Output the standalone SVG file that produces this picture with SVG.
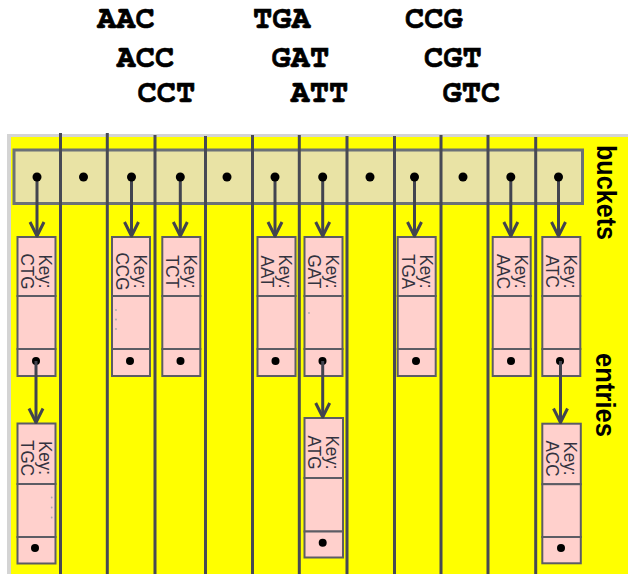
<svg xmlns="http://www.w3.org/2000/svg" width="628" height="574" viewBox="0 0 628 574">
<defs>
<style>
.seq{font-family:"FreeMono","Liberation Mono",monospace;font-weight:bold;font-size:32px;fill:#000;stroke:#000;stroke-width:0.7}
.lbl{font-family:"Liberation Sans",Arial,sans-serif;font-weight:bold;font-size:27px;fill:#000}
.key{font-family:"Liberation Sans",Arial,sans-serif;font-size:19px;fill:#33333f}
.vl{stroke:#474954;stroke-width:3}
.ent{fill:#ffd0cc;stroke:#5c5c64;stroke-width:2}
.conn{stroke:#42444f;stroke-width:3;fill:none}
.dot{fill:#000}
.fd{fill:#aaa}
</style>
<marker id="ah" markerUnits="userSpaceOnUse" markerWidth="20" markerHeight="20" viewBox="-2 -10 20 20" refX="14" refY="0" orient="auto" overflow="visible">
<path d="M0,-7 L14,0 L0,7" fill="none" stroke="#42444f" stroke-width="3" stroke-linejoin="round"/>
</marker>
</defs>

<g id="sequences">
<text class="seq" x="97" y="28.3">AAC</text>
<text class="seq" x="253" y="28.3">TGA</text>
<text class="seq" x="405" y="28.3">CCG</text>
<text class="seq" x="116.5" y="66.7">ACC</text>
<text class="seq" x="271.5" y="66.7">GAT</text>
<text class="seq" x="424" y="66.7">CGT</text>
<text class="seq" x="137.5" y="102.3">CCT</text>
<text class="seq" x="290.5" y="102.3">ATT</text>
<text class="seq" x="442.5" y="102.3">GTC</text>
</g>

<g id="panel">
<rect x="7" y="134" width="621" height="440" fill="#d4d4d4"/>
<rect x="11" y="137" width="617" height="437" fill="#ffff00"/>
</g>

<g id="buckets">
<rect x="14" y="150" width="568.5" height="53.5" fill="#e9e3a5" stroke="#6b7178" stroke-width="3"/>
</g>

<g id="dividers">
<line class="vl" x1="60.5" y1="133" x2="60.5" y2="574"/>
<line class="vl" x1="107.3" y1="133" x2="107.3" y2="574"/>
<line class="vl" x1="155" y1="135" x2="155" y2="574"/>
<line class="vl" x1="205.5" y1="136" x2="205.5" y2="574"/>
<line class="vl" x1="252.5" y1="135" x2="252.5" y2="574"/>
<line class="vl" x1="299.3" y1="135" x2="299.3" y2="574"/>
<line class="vl" x1="347" y1="136" x2="347" y2="574"/>
<line class="vl" x1="394.5" y1="136" x2="394.5" y2="574"/>
<line class="vl" x1="441" y1="135" x2="441" y2="574"/>
<line class="vl" x1="488" y1="135" x2="488" y2="574"/>
<line class="vl" x1="535.7" y1="137" x2="535.7" y2="574"/>
</g>

<g id="entry-CTG">
<rect class="ent" x="17.5" y="237" width="38" height="59"/>
<rect class="ent" x="17.5" y="296" width="38" height="53"/>
<rect class="ent" x="17.5" y="349" width="38" height="27"/>
<g transform="translate(17.5,271.5) rotate(90) scale(0.9,1)"><text class="key" text-anchor="middle" y="-22">Key:</text><text class="key" text-anchor="middle" y="-4">CTG</text></g>
<circle class="dot" cx="36" cy="361" r="4"/>
</g>
<g id="entry-TGC">
<rect class="ent" x="17.5" y="423.5" width="38" height="60.5"/>
<rect class="ent" x="17.5" y="484" width="38" height="53"/>
<rect class="ent" x="17.5" y="537" width="38" height="26.5"/>
<g transform="translate(17.5,458) rotate(90) scale(0.9,1)"><text class="key" text-anchor="middle" y="-22">Key:</text><text class="key" text-anchor="middle" y="-4">TGC</text></g>
<circle class="fd" cx="51.7" cy="497.5" r="0.9"/><circle class="fd" cx="51.7" cy="507.5" r="0.9"/><circle class="fd" cx="51.7" cy="517.5" r="0.9"/>
<circle class="dot" cx="35" cy="548" r="4"/>
</g>
<g id="entry-CCG">
<rect class="ent" x="112" y="237" width="38" height="59"/>
<rect class="ent" x="112" y="296" width="38" height="53"/>
<rect class="ent" x="112" y="349" width="38" height="27"/>
<g transform="translate(112,271.5) rotate(90) scale(0.9,1)"><text class="key" text-anchor="middle" y="-22">Key:</text><text class="key" text-anchor="middle" y="-4">CCG</text></g>
<circle class="fd" cx="116" cy="310" r="0.9"/><circle class="fd" cx="116" cy="319.5" r="0.9"/><circle class="fd" cx="116" cy="329" r="0.9"/>
<circle class="dot" cx="130" cy="361" r="4"/>
</g>
<g id="entry-TCT">
<rect class="ent" x="162.3" y="237" width="38" height="59"/>
<rect class="ent" x="162.3" y="296" width="38" height="53"/>
<rect class="ent" x="162.3" y="349" width="38" height="27"/>
<g transform="translate(162.3,271.5) rotate(90) scale(0.9,1)"><text class="key" text-anchor="middle" y="-22">Key:</text><text class="key" text-anchor="middle" y="-4">TCT</text></g>
<circle class="dot" cx="180.5" cy="361" r="4"/>
</g>
<g id="entry-AAT">
<rect class="ent" x="257.5" y="237" width="38" height="59"/>
<rect class="ent" x="257.5" y="296" width="38" height="53"/>
<rect class="ent" x="257.5" y="349" width="38" height="27"/>
<g transform="translate(257.5,271.5) rotate(90) scale(0.9,1)"><text class="key" text-anchor="middle" y="-22">Key:</text><text class="key" text-anchor="middle" y="-4">AAT</text></g>
<circle class="dot" cx="275.5" cy="361" r="4"/>
</g>
<g id="entry-GAT">
<rect class="ent" x="304.5" y="237" width="38" height="59"/>
<rect class="ent" x="304.5" y="296" width="38" height="53"/>
<rect class="ent" x="304.5" y="349" width="38" height="27"/>
<g transform="translate(304.5,271.5) rotate(90) scale(0.9,1)"><text class="key" text-anchor="middle" y="-22">Key:</text><text class="key" text-anchor="middle" y="-4">GAT</text></g>
<circle class="fd" cx="309" cy="313" r="0.9"/>
<circle class="dot" cx="322.5" cy="361" r="4"/>
</g>
<g id="entry-ATG">
<rect class="ent" x="304.5" y="418" width="38.5" height="60"/>
<rect class="ent" x="304.5" y="478" width="38.5" height="53.5"/>
<rect class="ent" x="304.5" y="531.5" width="38.5" height="26"/>
<g transform="translate(304.5,452.5) rotate(90) scale(0.9,1)"><text class="key" text-anchor="middle" y="-22">Key:</text><text class="key" text-anchor="middle" y="-4">ATG</text></g>
<circle class="dot" cx="322.7" cy="542.7" r="4"/>
</g>
<g id="entry-TGA">
<rect class="ent" x="397.7" y="237" width="38" height="59"/>
<rect class="ent" x="397.7" y="296" width="38" height="53"/>
<rect class="ent" x="397.7" y="349" width="38" height="27"/>
<g transform="translate(397.7,271.5) rotate(90) scale(0.9,1)"><text class="key" text-anchor="middle" y="-22">Key:</text><text class="key" text-anchor="middle" y="-4">TGA</text></g>
<circle class="dot" cx="416" cy="361" r="4"/>
</g>
<g id="entry-AAC">
<rect class="ent" x="492.7" y="237" width="38" height="59"/>
<rect class="ent" x="492.7" y="296" width="38" height="53"/>
<rect class="ent" x="492.7" y="349" width="38" height="27"/>
<g transform="translate(492.7,271.5) rotate(90) scale(0.9,1)"><text class="key" text-anchor="middle" y="-22">Key:</text><text class="key" text-anchor="middle" y="-4">AAC</text></g>
<circle class="dot" cx="511" cy="361" r="4"/>
</g>
<g id="entry-ATC">
<rect class="ent" x="542.3" y="237" width="38" height="59"/>
<rect class="ent" x="542.3" y="296" width="38" height="53"/>
<rect class="ent" x="542.3" y="349" width="38" height="27"/>
<g transform="translate(542.3,271.5) rotate(90) scale(0.9,1)"><text class="key" text-anchor="middle" y="-22">Key:</text><text class="key" text-anchor="middle" y="-4">ATC</text></g>
<circle class="dot" cx="560" cy="361" r="4"/>
</g>
<g id="entry-ACC">
<rect class="ent" x="542.3" y="423.7" width="38.5" height="60.5"/>
<rect class="ent" x="542.3" y="484.2" width="38.5" height="52.8"/>
<rect class="ent" x="542.3" y="537" width="38.5" height="26.3"/>
<g transform="translate(542.3,458.5) rotate(90) scale(0.9,1)"><text class="key" text-anchor="middle" y="-22">Key:</text><text class="key" text-anchor="middle" y="-4">ACC</text></g>
<circle class="dot" cx="561" cy="548" r="4"/>
</g>

<g id="connectors">
<line class="conn" x1="37" y1="177" x2="37" y2="236" marker-end="url(#ah)"/>
<line class="conn" x1="131.5" y1="177" x2="131.5" y2="236" marker-end="url(#ah)"/>
<line class="conn" x1="180.3" y1="177" x2="180.3" y2="236" marker-end="url(#ah)"/>
<line class="conn" x1="275" y1="177" x2="275" y2="236" marker-end="url(#ah)"/>
<line class="conn" x1="322.7" y1="177" x2="322.7" y2="236" marker-end="url(#ah)"/>
<line class="conn" x1="414.5" y1="177" x2="414.5" y2="236" marker-end="url(#ah)"/>
<line class="conn" x1="510.8" y1="177" x2="510.8" y2="236" marker-end="url(#ah)"/>
<line class="conn" x1="558.5" y1="177" x2="558.5" y2="236" marker-end="url(#ah)"/>
<line class="conn" x1="36" y1="361" x2="36" y2="422.5" marker-end="url(#ah)"/>
<line class="conn" x1="322.7" y1="361" x2="322.7" y2="417" marker-end="url(#ah)"/>
<line class="conn" x1="560.5" y1="361" x2="560.5" y2="422.5" marker-end="url(#ah)"/>
</g>

<g id="bucket-dots">
<circle class="dot" cx="37" cy="177" r="4.5"/>
<circle class="dot" cx="83.5" cy="177" r="4.5"/>
<circle class="dot" cx="131.5" cy="177" r="4.5"/>
<circle class="dot" cx="180.3" cy="177" r="4.5"/>
<circle class="dot" cx="227" cy="177" r="4.5"/>
<circle class="dot" cx="275" cy="177" r="4.5"/>
<circle class="dot" cx="322.7" cy="177" r="4.5"/>
<circle class="dot" cx="370" cy="177" r="4.5"/>
<circle class="dot" cx="414.5" cy="177" r="4.5"/>
<circle class="dot" cx="463" cy="177" r="4.5"/>
<circle class="dot" cx="510.8" cy="177" r="4.5"/>
<circle class="dot" cx="558.5" cy="177" r="4.5"/>
</g>

<g id="labels">
<text class="lbl" transform="translate(597,145) rotate(90)" textLength="95" lengthAdjust="spacingAndGlyphs">buckets</text>
<text class="lbl" transform="translate(596,353) rotate(90)" textLength="84" lengthAdjust="spacingAndGlyphs">entries</text>
</g>
</svg>
